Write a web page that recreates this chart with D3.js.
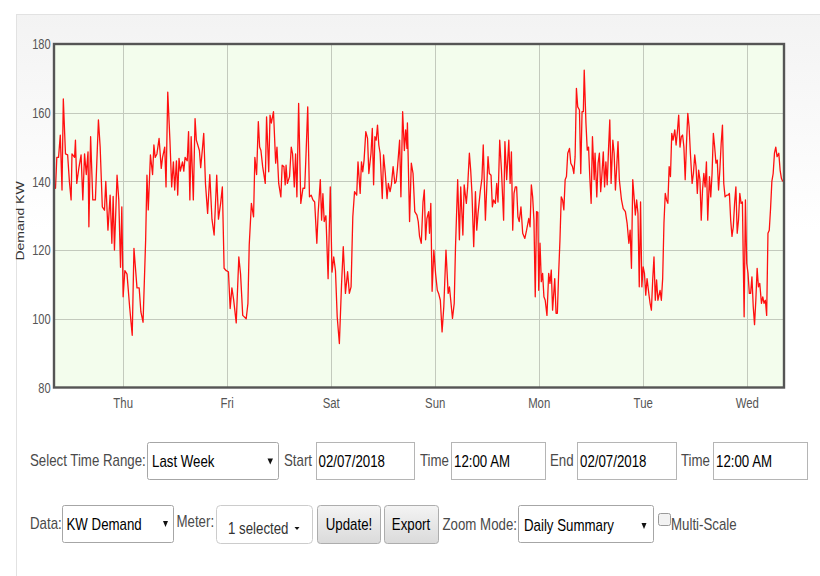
<!DOCTYPE html>
<html>
<head>
<meta charset="utf-8">
<script src="https://cdn.jsdelivr.net/npm/d3@7"></script>
<style>
body { margin: 0; background: #fff; }
svg { display: block; font-family: "Liberation Sans", Arial, sans-serif; }
</style>
</head>
<body>
<div id="chart"></div>
<script>
/* readings per day: [hour of day, kW] */
var wed31 = [[8.2,139],[8.5,138],[8.8,147],[9.2,147],[9.6,153.5],[10.0,137.5],[10.3,164],[10.8,148],[11.3,147.7],[11.7,140],[12.1,134.6],[12.3,148],[12.9,147],[13.1,152],[13.4,139.4],[13.9,144],[14.4,147.7],[14.8,134.6],[15.2,148],[15.6,142],[16.0,148.6],[16.2,126.8],[16.6,153],[17.1,134.6],[17.7,134.6],[18.4,157.9],[18.8,150],[19.3,132.6],[19.8,131.6],[20.1,140],[20.6,125.8],[21.1,136],[21.5,122],[21.8,135.6],[22.1,120],[22.7,141.8],[23.1,134.6],[23.5,115],[23.8,132.6]];
var thu01 = [[0.1,106.4],[0.5,114],[1.0,113],[1.6,103.5],[2.2,95.2],[2.6,120.5],[3.3,109],[3.8,109],[4.2,102],[4.7,99],[5.3,123],[5.6,141.8],[5.9,131.7],[6.4,147.7],[6.9,142],[7.2,150.6],[7.5,147],[7.9,148],[8.4,152.5],[8.9,143.8],[9.2,147],[9.7,150],[10.0,138.4],[10.4,166],[10.9,152],[11.3,138.4],[11.7,145.7],[12.0,137.5],[12.4,146],[12.7,136],[13.0,146.7],[13.3,143],[13.8,145.7],[14.1,143],[14.4,147],[14.9,146],[15.2,154.5],[15.5,134.6],[15.8,153],[16.3,134.6],[16.7,158.3],[17.0,152],[17.7,149],[18.0,144],[18.4,149.5],[18.7,154],[19.1,139.4],[19.6,130.7],[20.1,142],[20.6,129],[21.1,124.4],[21.7,141.8],[22.1,129],[22.6,133.6],[23.0,138.4],[23.4,114.7],[23.9,114]];
var fri02 = [[0.4,113.7],[0.8,103],[1.2,109],[1.6,105.6],[2.2,98.8],[2.8,118],[3.2,113],[3.7,101],[4.5,100],[4.9,104.5],[5.2,121.5],[5.7,133.6],[6.2,129.7],[6.5,147],[6.9,142],[7.3,157.4],[7.6,150],[7.9,149],[8.3,144.3],[8.9,139.4],[9.2,158.8],[9.7,142.8],[10.0,159.3],[10.3,157],[10.8,160.3],[11.3,145.3],[11.6,150],[12.0,139.4],[12.5,135.5],[12.8,144.7],[13.2,144.3],[13.5,139],[13.7,144.7],[14.0,139.4],[14.5,141.4],[14.9,150],[15.2,148],[15.6,138.4],[15.9,148],[16.2,135.5],[16.6,162.7],[17.1,133.6],[17.6,138],[18.0,138],[18.3,147.7],[18.7,161.7],[19.1,135.5],[19.5,136],[19.9,134.6],[20.3,134],[20.8,122],[21.1,130.7],[21.6,140.5],[21.9,128.7],[22.2,136.4],[22.5,128.3],[22.9,130],[23.4,111.7],[23.9,138.4]];
var sat03 = [[0.3,113.6],[0.7,118],[1.1,114],[1.5,100.6],[2.0,92.8],[2.5,110],[2.9,121],[3.4,107.4],[3.9,113.7],[4.3,107.4],[4.7,109.3],[5.1,129.7],[5.5,137],[6.0,136],[6.3,145.7],[6.8,136.5],[7.1,145.7],[7.4,142.8],[7.7,146.2],[8.1,154.5],[8.5,152.5],[8.8,142.3],[9.3,148.2],[9.6,155.4],[9.9,139],[10.2,153],[10.5,152],[10.8,156.4],[11.1,150.6],[11.4,148.2],[11.9,135],[12.2,147.7],[12.6,142.3],[13.0,135],[13.3,139.4],[13.7,137],[14.0,139],[14.4,144.3],[14.8,139.4],[15.1,140],[15.4,143.8],[15.9,152],[16.2,135.5],[16.6,160.3],[17.0,149],[17.3,155],[17.6,149.6],[17.7,157],[18.2,128.3],[18.6,145.3],[19.0,142.3],[19.4,131.2],[19.9,130.2],[20.2,128.3],[20.5,124],[20.9,122],[21.3,134],[21.6,137.5],[21.9,123],[22.2,129.2],[22.6,131.2],[22.8,124.9],[23.1,133.6],[23.4,108],[23.8,120]];
var sun04 = [[0.2,113.2],[0.6,108.3],[0.9,107.4],[1.3,105.4],[1.7,96.2],[2.1,103.6],[2.6,120],[3.1,107.4],[3.4,109.3],[3.7,105.4],[4.1,100.1],[4.5,104.5],[4.8,121],[5.3,140.5],[5.7,123],[6.0,138.4],[6.5,124.4],[6.8,139],[7.3,133.6],[7.6,138.4],[8.0,148.2],[8.3,143.3],[8.6,136.5],[9.0,121],[9.4,137],[9.7,125.8],[10.0,130.7],[10.5,137],[10.9,140.9],[11.2,150.6],[11.7,128.7],[12.0,138],[12.3,147.2],[12.6,142.3],[13.0,141.8],[13.3,132.6],[13.6,134.6],[14.0,133.6],[14.3,139.4],[14.6,134],[15.0,152],[15.4,143.3],[15.9,128.7],[16.2,151.6],[16.6,140.5],[17.1,152],[17.4,139.4],[17.7,148.6],[18.0,125.8],[18.3,136.5],[18.6,138.4],[18.9,138.4],[19.2,129.7],[19.5,128.3],[19.9,132.6],[20.3,124.9],[20.8,123.4],[21.2,125.8],[21.7,129.2],[22.0,126.8],[22.3,139],[22.6,135.5],[22.9,128.7],[23.2,106.4],[23.5,131.2],[23.8,131]];
var mon05 = [[0.0,108.3],[0.3,122],[0.6,110.8],[0.9,113.2],[1.2,106.4],[1.5,105.4],[1.9,101],[2.3,113.2],[2.6,110.3],[2.9,114.2],[3.2,102.5],[3.7,111.7],[4.0,101.6],[4.3,101.6],[4.6,113.2],[4.9,122.9],[5.2,135.5],[5.5,134.6],[5.8,131.7],[6.1,140.5],[6.4,141.4],[6.7,148.2],[7.1,149.6],[7.4,145.3],[7.8,144.3],[8.1,142.3],[8.4,147.2],[8.7,167.1],[9.0,161.7],[9.4,160.8],[9.7,142.3],[10.0,160.3],[10.3,160.3],[10.5,172.4],[10.9,156.9],[11.2,149.1],[11.5,150],[11.8,140.9],[12.1,133.6],[12.4,153],[12.8,140.5],[13.0,148.2],[13.4,135.5],[13.7,145.3],[14.0,148.2],[14.3,137],[14.6,142.3],[14.9,148.6],[15.2,138.4],[15.5,145.7],[15.8,139],[16.1,149.1],[16.4,157.9],[16.7,139.4],[17.1,152],[17.4,148.2],[17.7,137.5],[18.0,144.3],[18.3,151.6],[18.6,140.5],[19.1,134.6],[19.5,132.1],[20.0,131.2],[20.4,127.8],[20.8,122],[21.1,125.8],[21.4,114.7],[21.7,140.5],[22.0,135.5],[22.3,130.2],[22.6,134.6],[22.9,130.7],[23.2,109.3],[23.5,134],[23.8,109.3]];
var tue06 = [[0.1,115.1],[0.4,113.2],[0.7,106.9],[1.0,111.7],[1.4,107.4],[1.7,104.5],[2.0,102.5],[2.3,111.3],[2.6,118],[2.9,105.4],[3.2,111.3],[3.5,105.4],[4.0,108.3],[4.3,105.4],[4.6,111.7],[4.9,127.8],[5.2,136.5],[5.5,134.6],[5.8,133.6],[6.1,144.3],[6.4,141.4],[6.7,154],[7.0,152],[7.4,155],[7.7,150.6],[8.0,154.5],[8.3,159.3],[8.6,150],[8.9,153],[9.2,153.5],[9.5,150],[9.8,140.5],[10.1,151],[10.4,159.8],[10.7,155.9],[11.0,148.2],[11.4,139.4],[11.7,142.3],[12.0,147.7],[12.3,144.3],[12.6,136.5],[12.9,143.3],[13.2,140.5],[13.5,128.7],[13.8,137.5],[14.1,142.3],[14.4,138.4],[14.7,145.7],[15.0,128.7],[15.4,141.4],[15.7,135.5],[16.0,142.3],[16.3,154],[16.6,150],[16.9,145.3],[17.2,146.2],[17.5,137.5],[17.8,143.3],[18.1,151],[18.4,156.4],[18.7,139.4],[19.0,135.5],[19.4,136],[19.7,136],[20.0,136.5],[20.3,128.7],[20.6,124],[20.9,126.8],[21.2,133.6],[21.5,138.4],[21.8,124.9],[22.1,128.7],[22.4,136.5],[22.7,133.6],[23.0,134],[23.4,100.6],[23.7,134.6]];
var wed07 = [[0.0,116.1],[0.3,113.2],[0.6,107.4],[0.9,107.4],[1.2,112.2],[1.5,103.6],[1.8,98.3],[2.1,105.4],[2.4,114.7],[2.7,109.3],[3.0,110.3],[3.4,104.5],[3.7,106.4],[4.0,104.5],[4.3,105.4],[4.6,101],[4.9,124.9],[5.2,125.8],[5.5,132.1],[5.8,140],[6.1,142.3],[6.4,148.2],[6.7,150],[7.0,147.2],[7.4,148.2],[7.7,143.3],[8.0,140.9],[8.3,140]];

var days = [wed31, thu01, fri02, sat03, sun04, mon05, tue06, wed07];
var yTicks = [80, 100, 120, 140, 160, 180];
var rangeStart = new Date(2018, 0, 31, 8, 9),
    rangeEnd = new Date(2018, 1, 7, 8, 36);

var font = "'Liberation Sans', Arial, sans-serif";

/* flatten the days into one series */
var series = [];
days.forEach(function(day, i) {
	day.forEach(function(r) {
		var d = new Date(2018, 0, 31 + i);
		series.push({ date: new Date(d.getTime() + r[0] * 3600000), kw: r[1] });
	});
});

var svg = d3.select("#chart").append("svg")
	.attr("width", 820)
	.attr("height", 576);

var defs = svg.append("defs");

var panelGrad = defs.append("linearGradient")
	.attr("id", "panelGrad")
	.attr("gradientUnits", "userSpaceOnUse")
	.attr("x1", 0).attr("y1", 14).attr("x2", 0).attr("y2", 230);
panelGrad.append("stop").attr("offset", 0).attr("stop-color", "#f3f3f3");
panelGrad.append("stop").attr("offset", 1).attr("stop-color", "#ffffff");

var btnGrad = defs.append("linearGradient")
	.attr("id", "btnGrad")
	.attr("x1", 0).attr("y1", 0).attr("x2", 0).attr("y2", 1);
btnGrad.append("stop").attr("offset", 0).attr("stop-color", "#f4f4f4");
btnGrad.append("stop").attr("offset", 1).attr("stop-color", "#dadada");

/* panel behind everything */
svg.append("rect")
	.attr("x", 16.5).attr("y", 14.5)
	.attr("width", 820).attr("height", 600)
	.attr("fill", "url(#panelGrad)")
	.attr("stroke", "#e2e2e2");

/* plot area */
var plotL = 54, plotR = 784, plotT = 44, plotB = 387.5;

var x = d3.scaleTime().domain([rangeStart, rangeEnd]).range([plotL, plotR]);
var y = d3.scaleLinear().domain([80, 180]).range([plotB, plotT]);

defs.append("clipPath").attr("id", "plotClip")
	.append("rect")
	.attr("x", plotL).attr("y", plotT)
	.attr("width", plotR - plotL).attr("height", plotB - plotT);

svg.append("rect")
	.attr("x", plotL).attr("y", plotT)
	.attr("width", plotR - plotL).attr("height", plotB - plotT)
	.attr("fill", "#f3fded");

/* grid */
var grid = svg.append("g").attr("stroke", "#c3cabd").attr("stroke-width", 1);

grid.selectAll(".hgrid")
	.data(yTicks.slice(1, -1))
	.enter().append("line")
	.attr("x1", plotL).attr("x2", plotR)
	.attr("y1", function(d) { return Math.round(y(d)) + 0.5; })
	.attr("y2", function(d) { return Math.round(y(d)) + 0.5; });

grid.selectAll(".vgrid")
	.data(d3.timeDay.range(rangeStart, rangeEnd))
	.enter().append("line")
	.attr("y1", plotT).attr("y2", plotB)
	.attr("x1", function(d) { return Math.round(x(d)) + 0.5; })
	.attr("x2", function(d) { return Math.round(x(d)) + 0.5; });

/* demand line */
var line = d3.line()
	.x(function(d) { return x(d.date); })
	.y(function(d) { return y(d.kw); });

svg.append("path")
	.datum(series)
	.attr("clip-path", "url(#plotClip)")
	.attr("fill", "none")
	.attr("stroke", "#ff1010")
	.attr("stroke-width", 1.3)
	.attr("stroke-linejoin", "round")
	.attr("d", line);

/* frame */
svg.append("rect")
	.attr("x", plotL).attr("y", plotT)
	.attr("width", plotR - plotL).attr("height", plotB - plotT)
	.attr("fill", "none")
	.attr("stroke", "#555")
	.attr("stroke-width", 2.4);

/* axes */
var yAxis = svg.append("g")
	.attr("transform", "translate(" + plotL + ",0)")
	.call(d3.axisLeft(y).tickValues(yTicks).tickSize(0).tickPadding(0));
yAxis.select(".domain").remove();
yAxis.selectAll("text")
	.attr("font-family", font)
	.attr("font-size", 15)
	.attr("fill", "#555")
	.attr("x", -4.5)
	.attr("transform", "scale(0.74,1)");

var xAxis = svg.append("g")
	.attr("transform", "translate(0," + plotB + ")")
	.call(d3.axisBottom(x).ticks(d3.timeDay.every(1)).tickFormat(d3.timeFormat("%a")).tickSize(0).tickPadding(10));
xAxis.select(".domain").remove();
xAxis.selectAll("text")
	.attr("font-family", font)
	.attr("font-size", 15)
	.attr("fill", "#555")
	.attr("transform", "scale(0.76,1)");

svg.append("text")
	.attr("transform", "translate(24,221) scale(0.8,1) rotate(-90)")
	.attr("text-anchor", "middle")
	.attr("font-size", 14)
	.attr("fill", "#333")
	.text("Demand KW");

/* form controls under the chart */
var form = svg.append("g");

function label(xPos, base, str, color, anchor) {
	form.append("text")
		.attr("transform", "translate(" + xPos + "," + base + ") scale(0.83,1)")
		.attr("text-anchor", anchor || "start")
		.attr("font-size", 16)
		.attr("fill", color || "#4a4a4a")
		.text(str);
}

function box(bx, by, w, h, fill, stroke, r) {
	form.append("rect")
		.attr("x", bx + 0.5).attr("y", by + 0.5)
		.attr("width", w).attr("height", h)
		.attr("rx", r).attr("ry", r)
		.attr("fill", fill)
		.attr("stroke", stroke);
}

function arrow(ax, ay, w, h) {
	form.append("path")
		.attr("d", "M" + ax + "," + ay + "h" + w + "l" + (-w / 2) + "," + h + "z")
		.attr("fill", "#111");
}

/* row 1 */
label(30, 466, "Select Time Range:");
box(147, 442, 131, 37, "#fff", "#a6a6a6", 2);
label(152, 467, "Last Week", "#000");
arrow(267.5, 458.5, 5.5, 6);

label(284, 466, "Start");
box(316, 442, 98, 37, "#fff", "#b5b5b5", 0);
label(318.5, 467, "02/07/2018", "#000");

label(420, 466, "Time");
box(451, 442, 94, 37, "#fff", "#b5b5b5", 0);
label(454, 467, "12:00 AM", "#000");

label(550, 466, "End");
box(577, 442, 99, 37, "#fff", "#b5b5b5", 0);
label(580, 467, "02/07/2018", "#000");

label(681, 466, "Time");
box(713, 442, 94, 37, "#fff", "#b5b5b5", 0);
label(716, 467, "12:00 AM", "#000");

/* row 2 */
label(30, 529, "Data:");
box(62, 505, 111, 37, "#fff", "#a6a6a6", 2);
label(66.5, 530, "KW Demand", "#000");
arrow(163, 521, 5, 6);

label(176.5, 527, "Meter:");
box(216, 505, 96, 38, "#fff", "#cccccc", 4);
label(228, 533.5, "1 selected", "#333");
arrow(294.5, 527, 5, 3);

box(317, 505, 63, 38, "url(#btnGrad)", "#adadad", 3);
label(349, 530, "Update!", "#000", "middle");

box(384, 505, 54, 38, "url(#btnGrad)", "#adadad", 3);
label(411, 530, "Export", "#000", "middle");

label(442.5, 530, "Zoom Mode:");
box(518, 505, 135, 37, "#fff", "#a6a6a6", 2);
label(524, 531, "Daily Summary", "#000");
arrow(641.5, 523, 5, 6);

box(658, 513, 12, 12, "#f2f2f2", "#9a9a9a", 2);
label(671, 530, "Multi-Scale");
</script>
</body>
</html>
